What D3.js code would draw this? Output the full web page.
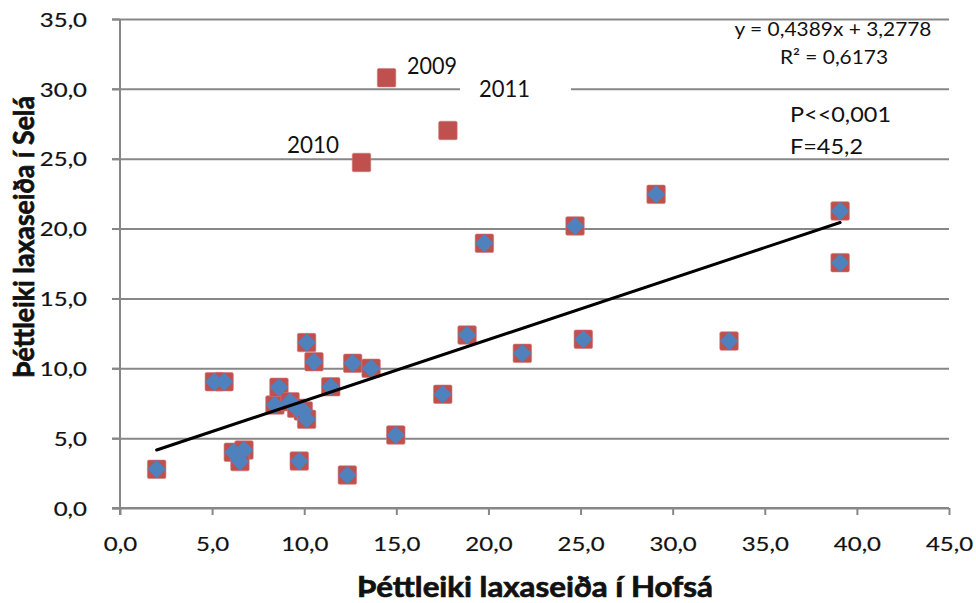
<!DOCTYPE html>
<html>
<head>
<meta charset="utf-8">
<script src="https://cdn.jsdelivr.net/npm/d3@7"></script>
<style>
  html, body { margin: 0; padding: 0; background: #fff; }
  svg { display: block; }
  text { font-family: Lato, "Open Sans", sans-serif; fill: #111; }
</style>
</head>
<body>
<svg id="chart" width="976" height="603"></svg>
<script>
// Salmon fry density: Hofsá (x) vs Selá (y)
const hofsa = [1.99, 5.12, 5.65, 6.15, 6.73, 6.51, 8.41, 8.63, 9.23, 9.59, 9.95, 10.13,
  10.13, 10.53, 11.44, 12.63, 13.63, 9.73, 12.34, 14.97, 17.52, 18.84, 19.78, 21.84,
  24.70, 25.15, 29.10, 33.06, 39.09, 39.09];
const sela = [2.77, 9.04, 9.04, 3.99, 4.15, 3.32, 7.37, 8.64, 7.61, 7.14, 6.95, 6.35,
  11.84, 10.47, 8.68, 10.36, 10.00, 3.36, 2.36, 5.23, 8.14, 12.38, 18.95, 11.07,
  20.19, 12.08, 22.45, 11.95, 21.26, 17.56];

// Years left out of the regression
const outlierYears = ["2009", "2010", "2011"];
const outlierHofsa = [14.47, 13.11, 17.80];
const outlierSela = [30.80, 24.73, 27.02];

// Regression result
const slope = 0.4389;
const intercept = 3.2778;
const rSquared = 0.6173;
const statLines = ["P<<0,001", "F=45,2"];

const xTicks = [0, 5, 10, 15, 20, 25, 30, 35, 40, 45];
const yTicks = [0, 5, 10, 15, 20, 25, 30, 35];

const xTitle = "Þéttleiki laxaseiða í Hofsá";
const yTitle = "Þéttleiki laxaseiða í Selá";

const locale = d3.formatLocale({ decimal: ",", thousands: ".", grouping: [3], currency: ["", " kr."] });
const f1 = locale.format(".1f");
const f4 = locale.format(".4f");

const svg = d3.select("#chart");
const x = d3.scaleLinear().domain([0, 45]).range([120, 949]);
const y = d3.scaleLinear().domain([0, 35]).range([508, 19]);

const GRID = "#878787";

// widen text horizontally to a target advance width
function fitWidth(sel, k) {
  sel.each(function () {
    const w = this.getComputedTextLength();
    this.setAttribute("textLength", (w * k).toFixed(1));
    this.setAttribute("lengthAdjust", "spacingAndGlyphs");
  });
}
function setWidth(sel, w) {
  sel.attr("textLength", w).attr("lengthAdjust", "spacingAndGlyphs");
}

// horizontal gridlines
const grid = svg.append("g")
  .attr("transform", "translate(112,0)")
  .call(d3.axisRight(y).tickValues(yTicks).tickSize(837).tickFormat(""));
grid.select(".domain").remove();
grid.selectAll("line").attr("stroke", GRID).attr("stroke-width", 2);

// y axis
const yAxis = svg.append("g")
  .attr("transform", "translate(120,0)")
  .call(d3.axisLeft(y).tickValues(yTicks).tickSize(8).tickPadding(25).tickFormat(f1));
yAxis.select(".domain").attr("d", `M0,${y(35)}V${y(0) + 7}`).attr("stroke", GRID).attr("stroke-width", 2);
yAxis.selectAll("line").attr("stroke", GRID).attr("stroke-width", 2);
yAxis.selectAll("text").attr("font-size", 20).attr("dy", "0.36em").attr("font-family", "Lato")
  .attr("fill", "#111").attr("stroke", "#111").attr("stroke-width", 0.2);
fitWidth(yAxis.selectAll("text"), 1.2);

// x axis
const xAxis = svg.append("g")
  .attr("transform", "translate(0,508)")
  .call(d3.axisBottom(x).tickValues(xTicks).tickSize(7).tickFormat(f1));
xAxis.select(".domain").attr("d", `M112,0H${x(45)}`).attr("stroke", GRID).attr("stroke-width", 2);
xAxis.selectAll("line").attr("stroke", GRID).attr("stroke-width", 2);
xAxis.selectAll("text").attr("font-size", 20).attr("y", 43).attr("dy", 0).attr("font-family", "Lato")
  .attr("fill", "#111").attr("stroke", "#111").attr("stroke-width", 0.2);
fitWidth(xAxis.selectAll("text"), 1.2);

// all years (red squares)
const allX = hofsa.concat(outlierHofsa);
const allY = sela.concat(outlierSela);
const sq = 18.5;
svg.append("g").selectAll("rect")
  .data(d3.range(allX.length))
  .join("rect")
  .attr("x", i => x(allX[i]) - sq / 2)
  .attr("y", i => y(allY[i]) - sq / 2)
  .attr("width", sq).attr("height", sq)
  .attr("rx", 1.5)
  .attr("fill", "#C0504D")
  .attr("stroke", "#D07a78").attr("stroke-width", 0.6);

// regression years (blue diamonds)
const diamond = d3.symbol().type(d3.symbolSquare).size((sq / Math.SQRT2) ** 2);
svg.append("g").selectAll("path")
  .data(d3.range(hofsa.length))
  .join("path")
  .attr("d", diamond)
  .attr("transform", i => `translate(${x(hofsa[i])},${y(sela[i])}) rotate(45)`)
  .attr("fill", "#4F81BD");

// trend line over the fitted range
const x0 = d3.min(hofsa), x1 = d3.max(hofsa);
svg.append("line")
  .attr("x1", x(x0)).attr("y1", y(slope * x0 + intercept))
  .attr("x2", x(x1)).attr("y2", y(slope * x1 + intercept))
  .attr("stroke", "#000").attr("stroke-width", 3).attr("stroke-linecap", "round");

// year labels
const yearLabelPos = [[407, 74], [287, 153], [479, 97]];
const yearLabelW = [50, 52, 51];
// white label box behind 2011
svg.append("rect").attr("x", 460).attr("y", 78).attr("width", 111).attr("height", 22).attr("fill", "#fff");
outlierYears.forEach((yr, i) => {
  svg.append("text")
    .attr("x", yearLabelPos[i][0]).attr("y", yearLabelPos[i][1])
    .attr("font-size", 24)
    .call(setWidth, yearLabelW[i])
    .text(yr);
});

// equation and R²
svg.append("text").attr("x", 833).attr("y", 36).attr("text-anchor", "middle")
  .attr("font-size", 19).call(setWidth, 197)
  .text(`y = ${f4(slope)}x + ${f4(intercept)}`);
svg.append("text").attr("x", 834).attr("y", 64).attr("text-anchor", "middle")
  .attr("font-size", 19).call(setWidth, 108)
  .text(`R² = ${f4(rSquared)}`);

// test statistics
const statW = [101, 73];
const statY = [122, 154];
statLines.forEach((s, i) => {
  svg.append("text").attr("x", 790).attr("y", statY[i])
    .attr("font-size", 21).call(setWidth, statW[i])
    .text(s);
});

// axis titles
svg.append("text").attr("x", 535).attr("y", 597).attr("text-anchor", "middle")
  .attr("font-size", 29).attr("font-weight", 700)
  .attr("stroke", "#111").attr("stroke-width", 0.7)
  .call(setWidth, 356)
  .text(xTitle);
svg.append("text").attr("transform", "translate(34,237) rotate(-90)").attr("text-anchor", "middle")
  .attr("font-size", 29).attr("font-weight", 700)
  .attr("stroke", "#111").attr("stroke-width", 0.7)
  .call(setWidth, 282)
  .text(yTitle);
</script>
</body>
</html>
